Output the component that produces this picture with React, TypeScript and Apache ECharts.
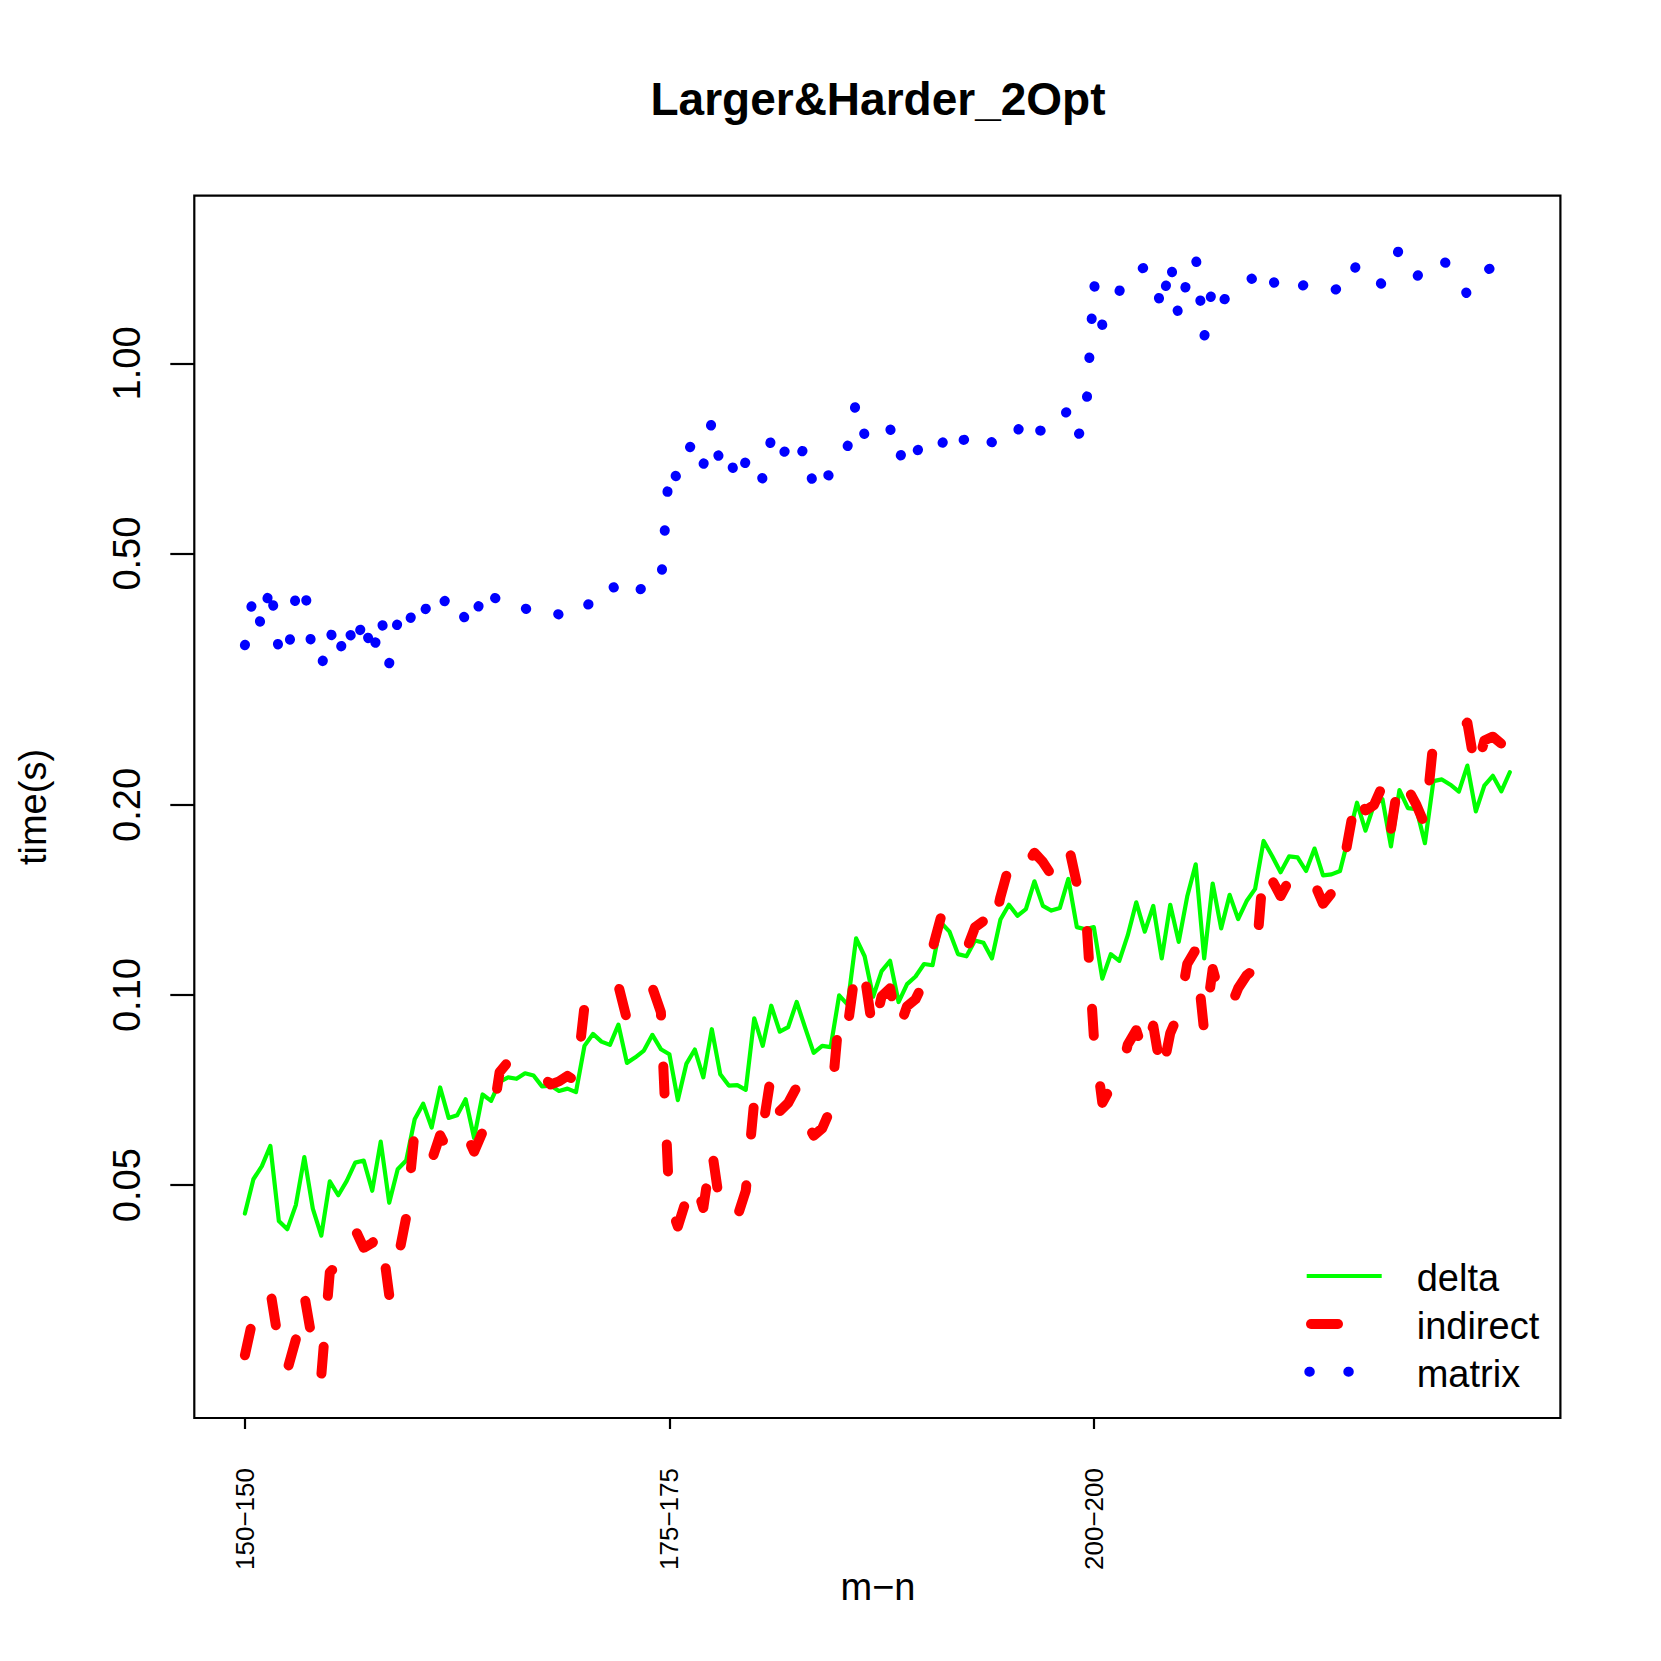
import React, { useEffect, useRef } from "react";
import * as echarts from "echarts";

// ---- data ----
const xTickIndex = [0, 50, 100];
const xTickLabels = ["150-150", "175-175", "200-200"];
const yTickValues = [0.05, 0.1, 0.2, 0.5, 1.0];

const delta = [
  0.0451, 0.0511, 0.0536, 0.0577, 0.0439, 0.0426, 0.0465, 0.0554, 0.0459, 0.0416,
  0.0507, 0.0482, 0.0508, 0.0543, 0.0547, 0.0490, 0.0586, 0.0469, 0.0530, 0.0547,
  0.0636, 0.0673, 0.0617, 0.0714, 0.0639, 0.0645, 0.0684, 0.0594, 0.0696, 0.0680,
  0.0729, 0.0741, 0.0737, 0.0752, 0.0746, 0.0717, 0.0719, 0.0705, 0.0711, 0.0702,
  0.0831, 0.0868, 0.0844, 0.0834, 0.0898, 0.0781, 0.0797, 0.0817, 0.0865, 0.0821,
  0.0806, 0.0682, 0.0778, 0.0820, 0.0741, 0.0883, 0.0749, 0.0719, 0.0720, 0.0708,
  0.0919, 0.0831, 0.0962, 0.0875, 0.0890, 0.0975, 0.0887, 0.0810, 0.0831, 0.0827,
  0.0999, 0.0966, 0.1230, 0.1152, 0.0994, 0.1091, 0.1133, 0.0975, 0.1041, 0.1070,
  0.1120, 0.1115, 0.1302, 0.1260, 0.1161, 0.1152, 0.1220, 0.1210, 0.1143, 0.1317,
  0.1390, 0.1335, 0.1368, 0.1514, 0.1384, 0.1361, 0.1374, 0.1527, 0.1281, 0.1271,
  0.1281, 0.1062, 0.1161, 0.1133, 0.1244, 0.1402, 0.1260, 0.1384, 0.1143, 0.1390,
  0.1214, 0.1432, 0.1611, 0.1143, 0.1502, 0.1275, 0.1441, 0.1319, 0.1409, 0.1473,
  0.1754, 0.1660, 0.1565, 0.1658, 0.1652, 0.1572, 0.1706, 0.1547, 0.1553, 0.1572,
  0.1777, 0.2016, 0.1821, 0.2000, 0.2043, 0.1720, 0.2111, 0.1977, 0.1970, 0.1740,
  0.2181, 0.2195, 0.2153, 0.2100, 0.2309, 0.1954, 0.2146, 0.2224, 0.2102, 0.2253,
];

const indirect = [
  0.0269, 0.0310, 0.0325, 0.0340, 0.0280, 0.0255, 0.0285, 0.0335, 0.0280, 0.0250,
  0.0364, 0.0375, 0.0390, 0.0425, 0.0398, 0.0405, 0.0423, 0.0335, 0.0380, 0.0445,
  0.0610, 0.0580, 0.0547, 0.0600, 0.0565, 0.0585, 0.0605, 0.0565, 0.0607, 0.0615,
  0.0755, 0.0784, 0.0784, 0.0785, 0.0770, 0.0745, 0.0722, 0.0730, 0.0745, 0.0730,
  0.0960, 0.1000, 0.1005, 0.1000, 0.1035, 0.0915, 0.0920, 0.0950, 0.1028, 0.0940,
  0.0470, 0.0430, 0.0475, 0.0510, 0.0460, 0.0570, 0.0460, 0.0440, 0.0445, 0.0490,
  0.0680, 0.0615, 0.0750, 0.0655, 0.0675, 0.0715, 0.0635, 0.0599, 0.0615, 0.0660,
  0.0930, 0.0890, 0.1120, 0.1075, 0.0870, 0.0995, 0.1025, 0.0880, 0.0960, 0.0985,
  0.1050, 0.1185, 0.1330, 0.1240, 0.1205, 0.1180, 0.1280, 0.1310, 0.1245, 0.1430,
  0.1600, 0.1534, 0.1600, 0.1680, 0.1625, 0.1550, 0.1590, 0.1730, 0.1500, 0.1395,
  0.0860, 0.0675, 0.0715, 0.0735, 0.0835, 0.0880, 0.0800, 0.0895, 0.0745, 0.0870,
  0.0935, 0.1120, 0.1180, 0.0875, 0.1100, 0.0985, 0.0950, 0.1025, 0.1075, 0.1100,
  0.1600, 0.1520, 0.1435, 0.1520, 0.1490, 0.1555, 0.1500, 0.1395, 0.1450, 0.1500,
  0.1780, 0.2110, 0.1960, 0.2000, 0.2145, 0.1830, 0.2235, 0.2120, 0.2000, 0.1860,
  0.2520, 0.2535, 0.2565, 0.2620, 0.2700, 0.2250, 0.2530, 0.2565, 0.2500, 0.2500,
];

const matrix = [
  0.358, 0.43, 0.38, 0.45, 0.35, 0.34, 0.43, 0.45, 0.34, 0.33,
  0.38, 0.34, 0.39, 0.35, 0.40, 0.34, 0.40, 0.335, 0.39, 0.37,
  0.42, 0.40, 0.43, 0.41, 0.43, 0.43, 0.39, 0.38, 0.445, 0.43,
  0.42, 0.41, 0.42, 0.41, 0.40, 0.40, 0.41, 0.40, 0.39, 0.402,
  0.41, 0.422, 0.44, 0.452, 0.43, 0.419, 0.43, 0.445, 0.44, 0.445,
  0.69, 0.655, 0.72, 0.76, 0.69, 0.81, 0.69, 0.72, 0.645, 0.70,
  0.72, 0.655, 0.76, 0.70, 0.745, 0.70, 0.74, 0.635, 0.68, 0.66,
  0.70, 0.74, 0.87, 0.77, 0.745, 0.77, 0.79, 0.70, 0.76, 0.72,
  0.755, 0.77, 0.74, 0.79, 0.75, 0.76, 0.735, 0.765, 0.75, 0.73,
  0.755, 0.78, 0.83, 0.79, 0.78, 0.81, 0.80, 0.85, 0.765, 0.80,
  1.34, 1.15, 1.22, 1.30, 1.41, 1.40, 1.42, 1.40, 1.21, 1.46,
  1.18, 1.36, 1.48, 1.10, 1.33, 1.24, 1.30, 1.34, 1.38, 1.35,
  1.42, 1.36, 1.29, 1.32, 1.31, 1.34, 1.31, 1.33, 1.30, 1.32,
  1.30, 1.45, 1.42, 1.38, 1.33, 1.41, 1.52, 1.45, 1.37, 1.42,
  1.40, 1.46, 1.42, 1.40, 1.28, 1.36, 1.40, 1.42, 1.345, 1.39,
];

const FONT = "Liberation Sans, Arial, Helvetica, sans-serif";

const toPairs = (arr: number[]) => arr.map((v, i) => [i, v]);

export default function App() {
  const ref = useRef<HTMLDivElement>(null);

  useEffect(() => {
    document.body.style.margin = "0";
    const chart = echarts.init(ref.current as HTMLDivElement, null, { renderer: "svg" });
    const n = delta.length;
    const pad = (n - 1) * 0.04;

    const option: any = {
      animation: false,
      backgroundColor: "#ffffff",
      grid: {
        left: 194.3,
        right: 100.6,
        top: 195.6,
        bottom: 243,
        show: true,
        borderColor: "#000",
        borderWidth: 2.2,
        backgroundColor: "transparent",
        containLabel: false,
        outerBoundsMode: "none",
      },
      xAxis: {
        type: "value",
        min: -pad,
        max: n - 1 + pad,
        axisLine: { show: false, onZero: false },
        splitLine: { show: false },
        axisTick: {
          show: true,
          customValues: xTickIndex,
          length: 11,
          lineStyle: { color: "#000", width: 2.2 },
        },
        axisLabel: {
          customValues: xTickIndex,
          formatter: (v: number) => {
            const k = xTickIndex.indexOf(Math.round(v));
            return k >= 0 ? xTickLabels[k].replace("-", "\u2212") : "";
          },
          rotate: 90,
          margin: 50,
          fontSize: 26,
          fontFamily: FONT,
          color: "#000",
        },
      },
      yAxis: {
        type: "log",
        logBase: 10,
        min: 0.0214,
        max: 1.844,
        axisLine: { show: false, onZero: false },
        splitLine: { show: false },
        axisTick: {
          show: true,
          customValues: yTickValues,
          length: 24,
          lineStyle: { color: "#000", width: 2.2 },
        },
        axisLabel: {
          customValues: yTickValues,
          formatter: (v: number) => Number(v).toFixed(2),
          rotate: 90,
          margin: 48,
          fontSize: 38,
          fontFamily: FONT,
          color: "#000",
          align: "center",
          verticalAlign: "bottom",
        },
      },
      series: [
        {
          name: "delta",
          type: "line",
          data: toPairs(delta),
          symbol: "none",
          showSymbol: false,
          silent: true,
          lineStyle: { color: "#00ff00", width: 4.2, join: "round", cap: "round" },
          z: 2,
        },
        {
          name: "indirect",
          type: "line",
          data: toPairs(indirect),
          symbol: "none",
          showSymbol: false,
          silent: true,
          lineStyle: { color: "#ff0000", width: 10, type: [27, 51], cap: "round", join: "round" },
          z: 3,
        },
        {
          name: "matrix",
          type: "line",
          data: toPairs(matrix),
          symbol: "none",
          showSymbol: false,
          silent: true,
          lineStyle: { color: "#0000ff", width: 10, type: [0.5, 38.5], cap: "round", join: "round" },
          z: 4,
        },
      ],
      graphic: [
        {
          type: "text",
          x: 878,
          y: 99,
          style: {
            text: "Larger&Harder_2Opt",
            fontSize: 46,
            fontWeight: "bold",
            fontFamily: FONT,
            fill: "#000",
            textAlign: "center",
            textVerticalAlign: "middle",
          },
        },
        {
          type: "text",
          x: 878,
          y: 1587,
          style: {
            text: "m\u2212n",
            fontSize: 38,
            fontFamily: FONT,
            fill: "#000",
            textAlign: "center",
            textVerticalAlign: "middle",
          },
        },
        {
          type: "text",
          x: 33,
          y: 807,
          rotation: Math.PI / 2,
          style: {
            text: "time(s)",
            fontSize: 38,
            fontFamily: FONT,
            fill: "#000",
            textAlign: "center",
            textVerticalAlign: "middle",
          },
        },
        {
          type: "line",
          shape: { x1: 1306.7, y1: 1276, x2: 1381.7, y2: 1276 },
          style: { stroke: "#00ff00", lineWidth: 4.2 },
        },
        {
          type: "line",
          shape: { x1: 1311, y1: 1324, x2: 1381.7, y2: 1324 },
          style: { stroke: "#ff0000", lineWidth: 10, lineDash: [27, 51], lineCap: "round" },
        },
        {
          type: "line",
          shape: { x1: 1309.3, y1: 1371.7, x2: 1384, y2: 1371.7 },
          style: { stroke: "#0000ff", lineWidth: 10, lineDash: [0.5, 38.5], lineCap: "round" },
        },
        {
          type: "text",
          x: 1416.7,
          y: 1278,
          style: { text: "delta", fontSize: 38, fontFamily: FONT, fill: "#000", textVerticalAlign: "middle" },
        },
        {
          type: "text",
          x: 1416.7,
          y: 1326,
          style: { text: "indirect", fontSize: 38, fontFamily: FONT, fill: "#000", textVerticalAlign: "middle" },
        },
        {
          type: "text",
          x: 1416.7,
          y: 1373.5,
          style: { text: "matrix", fontSize: 38, fontFamily: FONT, fill: "#000", textVerticalAlign: "middle" },
        },
      ],
    };

    chart.setOption(option);
    return () => chart.dispose();
  }, []);

  return (
    <div
      ref={ref}
      style={{ position: "absolute", left: 0, top: 0, width: 1661, height: 1661, background: "#fff" }}
    />
  );
}
